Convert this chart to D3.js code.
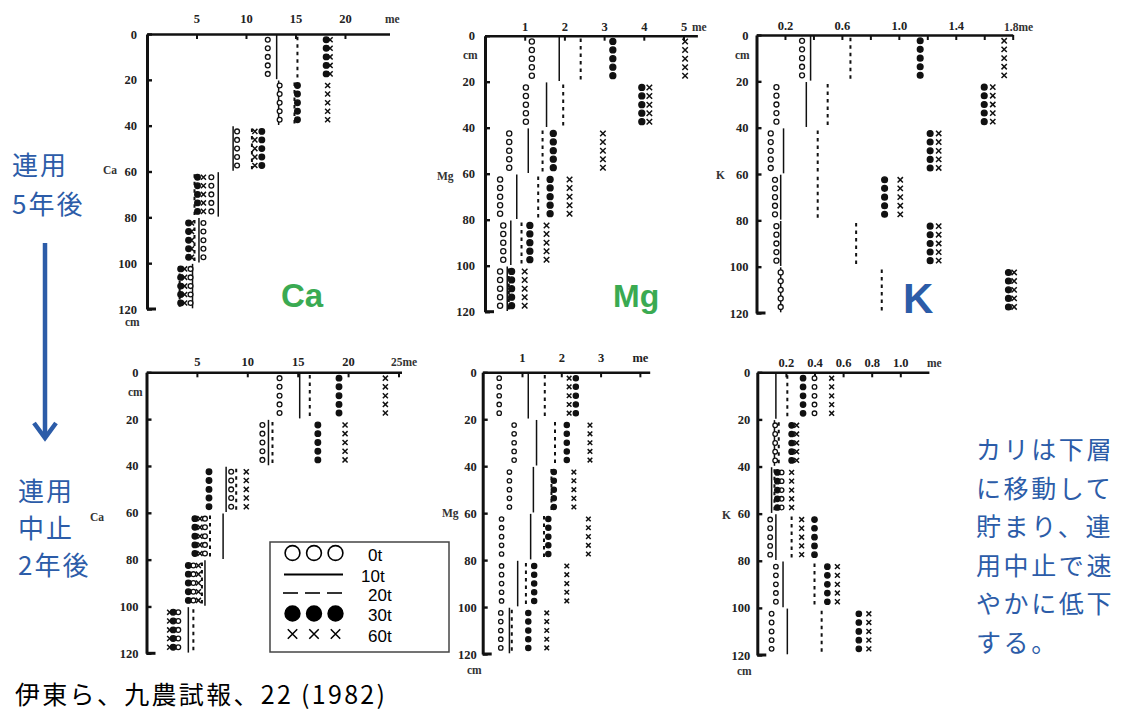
<!DOCTYPE html>
<html><head><meta charset="utf-8">
<script src="https://cdn.jsdelivr.net/npm/d3@7"></script>
<style>body{margin:0;background:#fff;} svg{display:block;}</style>
</head><body><svg id="c" width="1137" height="715"></svg>
<script>
// ---------- DATA ----------
const depthTops = [0, 20, 40, 60, 80, 100];
const yTickValues = [0, 20, 40, 60, 80, 100, 120];
const rateLabels = ["0t", "10t", "20t", "30t", "60t"];
const rateKinds = ["open", "solid", "dashed", "filled", "cross"];

// 連用5年後 Ca (me)
const ca5_0t  = [12.2, 13.4, 9.1, 6.5, 5.7, 4.4];
const ca5_10t = [13.1, 13.3, 8.7, 7.2, 5.25, 4.6];
const ca5_20t = [15.2, 14.9, 10.6, 4.8, 4.8, 3.3];
const ca5_30t = [18.1, 15.2, 11.6, 5.1, 4.2, 3.4];
const ca5_60t = [18.5, 18.25, 10.9, 5.7, 4.5, 3.8];
// 連用5年後 Mg
const mg5_0t  = [1.18, 1.03, 0.61, 0.38, 0.46, 0.38];
const mg5_10t = [1.87, 1.55, 1.09, 0.80, 0.65, 0.56];
const mg5_20t = [2.41, 1.97, 1.45, 1.34, 0.92, 0.60];
const mg5_30t = [3.22, 3.95, 1.72, 1.64, 1.13, 0.67];
const mg5_60t = [5.04, 4.14, 2.97, 2.13, 1.55, 1.00];
// 連用5年後 K
const k5_0t  = [0.32, 0.14, 0.10, 0.13, 0.14, 0.17];
const k5_10t = [0.38, 0.35, 0.19, 0.17, 0.17, 0.17];
const k5_20t = [0.66, 0.50, 0.43, 0.43, 0.70, 0.88];
const k5_30t = [1.15, 1.60, 1.22, 0.90, 1.22, 1.77];
const k5_60t = [1.74, 1.66, 1.28, 1.01, 1.28, 1.81];
// 連用中止2年後 Ca
const ca2_0t  = [13.2, 11.5, 8.4, 5.8, 4.65, 3.15];
const ca2_10t = [15.2, 12.1, 7.9, 7.6, 5.8, 4.15];
const ca2_20t = [16.2, 12.5, 8.9, 6.3, 5.5, 4.65];
const ca2_30t = [19.1, 17.0, 6.2, 4.8, 4.15, 2.65];
const ca2_60t = [23.7, 19.7, 9.9, 5.3, 5.15, 2.3];
// 連用中止2年後 Mg
const mg2_0t  = [0.42, 0.80, 0.68, 0.48, 0.48, 0.46];
const mg2_10t = [1.16, 1.37, 1.29, 1.22, 0.89, 0.68];
const mg2_20t = [1.58, 1.84, 1.75, 1.56, 1.10, 0.74];
const mg2_30t = [2.37, 2.14, 1.81, 1.67, 1.31, 1.16];
const mg2_60t = [2.20, 2.73, 2.32, 2.69, 2.14, 1.63];
// 連用中止2年後 K
const k2_0t  = [0.40, 0.125, 0.17, 0.09, 0.13, 0.10];
const k2_10t = [0.13, 0.12, 0.10, 0.13, 0.18, 0.21];
const k2_20t = [0.21, 0.15, 0.12, 0.24, 0.40, 0.45];
const k2_30t = [0.32, 0.24, 0.14, 0.40, 0.49, 0.71];
const k2_60t = [0.52, 0.275, 0.24, 0.31, 0.56, 0.78];

// tick values and labels
const caTop_ticks = [5, 10, 15, 20];           const caTop_labels = ["5", "10", "15", "20"];
const mgTop_ticks = [1, 2, 3, 4, 5];           const mgTop_labels = ["1", "2", "3", "4", "5"];
const kTop_ticks = [0.2,0.4,0.6,0.8,1.0,1.2,1.4,1.6,1.8];
const kTop_labels = ["0.2", "", "0.6", "", "1.0", "", "1.4", "", ""];
const caBot_ticks = [5, 10, 15, 20, 25];       const caBot_labels = ["5", "10", "15", "20", ""];
const mgBot_ticks = [1, 2, 3, 4];              const mgBot_labels = ["1", "2", "3", "me"];
const kBot_ticks = [0.2, 0.4, 0.6, 0.8, 1.0];  const kBot_labels = ["0.2", "0.4", "0.6", "0.8", "1.0"];

const leftNote1 = ["連用", "5年後"];
const leftNote2 = ["連用", "中止", "2年後"];
const rightNote = ["カリは下層", "に移動して", "貯まり、連", "用中止で速", "やかに低下", "する。"];
const sourceText = "伊東ら、九農試報、22 (1982)";

// ---------- LAYOUT ----------
const panels = [
  {series:[ca5_0t,ca5_10t,ca5_20t,ca5_30t,ca5_60t], xMax:24.5, x0:147, x1:389.5, y0:34, y1:309,
   ticks:caTop_ticks, labels:caTop_labels, xPad:11, yPad:10, r:2.4,
   extra:[{t:"me",x:385,y:23,a:"start"},{t:"Ca",x:103,y:174,a:"start"},{t:"cm",x:125,y:326,a:"start"}]},
  {series:[mg5_0t,mg5_10t,mg5_20t,mg5_30t,mg5_60t], xMax:5.35, x0:485, x1:697.4, y0:35.7, y1:311.7,
   ticks:mgTop_ticks, labels:mgTop_labels, xPad:5, yPad:10, r:2.6,
   extra:[{t:"me",x:692,y:31,a:"start"},{t:"Mg",x:437,y:180,a:"start"},{t:"cm",x:463,y:59,a:"start"}]},
  {series:[k5_0t,k5_10t,k5_20t,k5_30t,k5_60t], xMax:1.8, x0:756.5, x1:1012.7, y0:35, y1:313,
   ticks:kTop_ticks, labels:kTop_labels, xPad:5, yPad:8, r:2.5,
   extra:[{t:"1.8me",x:1004,y:31,a:"start"},{t:"K",x:716,y:179,a:"start"},{t:"cm",x:735,y:59,a:"start"}]},
  {series:[ca2_0t,ca2_10t,ca2_20t,ca2_30t,ca2_60t], xMax:25.3, x0:146.5, x1:401.5, y0:372.3, y1:653.3,
   ticks:caBot_ticks, labels:caBot_labels, xPad:6, yPad:8, r:2.4,
   extra:[{t:"25me",x:391,y:366,a:"start"},{t:"Ca",x:90,y:521,a:"start"},{t:"cm",x:128,y:396,a:"start"}]},
  {series:[mg2_0t,mg2_10t,mg2_20t,mg2_30t,mg2_60t], xMax:4.25, x0:482.7, x1:649.7, y0:372.3, y1:654,
   ticks:mgBot_ticks, labels:mgBot_labels, xPad:10, yPad:6, r:2.2,
   extra:[{t:"Mg",x:442,y:517,a:"start"},{t:"cm",x:467,y:674,a:"start"}]},
  {series:[k2_0t,k2_10t,k2_20t,k2_30t,k2_60t], xMax:1.2, x0:757.3, x1:928.9, y0:372.3, y1:655,
   ticks:kBot_ticks, labels:kBot_labels, xPad:5, yPad:7, r:2.3,
   extra:[{t:"me",x:927,y:367,a:"start"},{t:"K",x:722,y:519,a:"start"},{t:"cm",x:737,y:675,a:"start"}]}
];

const svg = d3.select("#c");
const INK = "#111";
const serif = "'Liberation Serif','DejaVu Serif',serif";
const depthOffsets = [2.5, 6.2, 10, 13.7, 17.4];

panels.forEach(p => {
  const x = d3.scaleLinear().domain([0, p.xMax]).range([p.x0, p.x1]);
  const y = d3.scaleLinear().domain([0, 120]).range([p.y0, p.y1]);
  const g = svg.append("g");

  const xa = d3.axisTop(x).tickValues(p.ticks).tickFormat((d, i) => p.labels[i])
    .tickSizeInner(-5).tickSizeOuter(0).tickPadding(p.xPad);
  const gx = g.append("g").attr("transform", `translate(0,${p.y0})`).call(xa);
  gx.select(".domain").attr("stroke", INK).attr("stroke-width", 2.6);
  gx.selectAll(".tick line").attr("stroke", INK).attr("stroke-width", 2);
  gx.selectAll(".tick text").attr("fill", "#222").style("font", `bold 12.5px ${serif}`);

  const ya = d3.axisLeft(y).tickValues(yTickValues).tickSizeInner(-5).tickSizeOuter(0).tickPadding(p.yPad);
  const gy = g.append("g").attr("transform", `translate(${p.x0},0)`).call(ya);
  gy.select(".domain").attr("stroke", INK).attr("stroke-width", 3);
  gy.selectAll(".tick line").attr("stroke", INK).attr("stroke-width", 2.4);
  gy.selectAll(".tick text").attr("fill", "#222").style("font", `bold 12.5px ${serif}`);
  g.append("line").attr("x1", p.x0).attr("x2", p.x0 + 9).attr("y1", y(120)).attr("y2", y(120))
    .attr("stroke", INK).attr("stroke-width", 3);

  p.extra.forEach(e => g.append("text").attr("x", e.x).attr("y", e.y).attr("text-anchor", e.a)
    .attr("fill", "#333").style("font", `bold 11.5px ${serif}`).text(e.t));

  // marks
  const recs = [];
  p.series.forEach((vals, si) => vals.forEach((v, i) => recs.push({kind: rateKinds[si], v, d0: depthTops[i]})));

  const lines = recs.filter(r => r.kind === "solid" || r.kind === "dashed");
  g.selectAll("line.m").data(lines).join("line").attr("class", "m")
    .attr("x1", r => x(r.v)).attr("x2", r => x(r.v))
    .attr("y1", r => y(r.d0 + (r.kind === "solid" ? 0.3 : 1.2)))
    .attr("y2", r => y(r.d0 + (r.kind === "solid" ? 19.7 : 19)))
    .attr("stroke", INK).attr("stroke-width", r => r.kind === "solid" ? 1.5 : 2)
    .attr("stroke-dasharray", r => r.kind === "dashed" ? "3.5,4" : null);

  const pts = [];
  recs.filter(r => r.kind === "open" || r.kind === "filled" || r.kind === "cross")
    .forEach(r => depthOffsets.forEach(o => pts.push({kind: r.kind, v: r.v, d: r.d0 + o})));

  g.selectAll("circle.m").data(pts.filter(q => q.kind !== "cross")).join("circle").attr("class", "m")
    .attr("cx", q => x(q.v)).attr("cy", q => y(q.d))
    .attr("r", q => q.kind === "filled" ? p.r + 0.4 : p.r)
    .attr("fill", q => q.kind === "filled" ? INK : "#fff")
    .attr("stroke", INK).attr("stroke-width", 1.3);

  const cross = d3.symbol().type(d3.symbolTimes).size(p.r * p.r * 3.2);
  g.selectAll("path.m").data(pts.filter(q => q.kind === "cross")).join("path").attr("class", "m")
    .attr("transform", q => `translate(${x(q.v)},${y(q.d)})`)
    .attr("d", cross).attr("fill", "none").attr("stroke", INK).attr("stroke-width", 1.5);
});

// ---------- LEGEND ----------
const lg = svg.append("g");
lg.append("rect").attr("x", 270).attr("y", 542).attr("width", 179).attr("height", 110)
  .attr("fill", "#fff").attr("stroke", "#444").attr("stroke-width", 1.5);
const legY = [553, 574.5, 593, 613.5, 634];
const legTextX = [368, 361, 368, 368, 368];
const legCx = [292.5, 314, 335.5];
rateKinds.forEach((k, i) => {
  const yy = legY[i];
  if (k === "open" || k === "filled") {
    lg.selectAll(null).data(legCx).join("circle").attr("cx", d => d).attr("cy", yy).attr("r", 7.4)
      .attr("fill", k === "filled" ? "#000" : "#fff").attr("stroke", "#000").attr("stroke-width", 1.6);
  } else if (k === "solid") {
    lg.append("line").attr("x1", 284).attr("x2", 343).attr("y1", yy).attr("y2", yy)
      .attr("stroke", "#000").attr("stroke-width", 2.2);
  } else if (k === "dashed") {
    lg.selectAll(null).data([283, 305, 327]).join("line").attr("x1", d => d).attr("x2", d => d + 15)
      .attr("y1", yy).attr("y2", yy).attr("stroke", "#000").attr("stroke-width", 1.6);
  } else {
    lg.selectAll(null).data(legCx).join("path").attr("transform", d => `translate(${d},${yy})`)
      .attr("d", d3.symbol().type(d3.symbolTimes).size(60)).attr("fill", "none")
      .attr("stroke", "#000").attr("stroke-width", 1.5);
  }
  lg.append("text").attr("x", legTextX[i]).attr("y", yy + 2).attr("dominant-baseline", "central")
    .style("font", "17px 'Liberation Sans', Arial, sans-serif").attr("fill", "#000").text(rateLabels[i]);
});

// ---------- BIG LABELS / NOTES ----------
const GREEN = "#3aaa52", BLUE = "#2c5ca8";
const sans = "'Liberation Sans', Arial, sans-serif";
svg.append("text").attr("x", 281).attr("y", 307).attr("fill", GREEN).style("font", `bold 33px ${sans}`).text("Ca");
svg.append("text").attr("x", 613).attr("y", 307).attr("fill", GREEN).style("font", `bold 32px ${sans}`).text("Mg");
svg.append("text").attr("x", 903).attr("y", 313).attr("fill", BLUE).style("font", `bold 42px ${sans}`).text("K");

const cjk = "'Noto Sans CJK JP', 'Noto Sans CJK SC', sans-serif";
leftNote1.forEach((t, i) => svg.append("text").attr("x", 12).attr("y", 163 + i * 39)
  .attr("dominant-baseline", "central").attr("fill", BLUE)
  .style("font", `26px ${cjk}`).style("letter-spacing", "2px").text(t));
leftNote2.forEach((t, i) => svg.append("text").attr("x", 18).attr("y", 489 + i * 37)
  .attr("dominant-baseline", "central").attr("fill", BLUE)
  .style("font", `26px ${cjk}`).style("letter-spacing", "2px").text(t));
rightNote.forEach((t, i) => svg.append("text").attr("x", 976).attr("y", 448 + i * 38.5)
  .attr("dominant-baseline", "central").attr("fill", BLUE)
  .style("font", `25px ${cjk}`).style("letter-spacing", "2.6px").text(t));

// arrow
svg.append("line").attr("x1", 45).attr("x2", 45).attr("y1", 243).attr("y2", 436)
  .attr("stroke", BLUE).attr("stroke-width", 4.5);
svg.append("path").attr("d", "M34,423 L45,438 L56,423").attr("fill", "none")
  .attr("stroke", BLUE).attr("stroke-width", 4.5).attr("stroke-linejoin", "miter");

svg.append("text").attr("x", 15).attr("y", 693).attr("dominant-baseline", "central")
  .attr("fill", "#000").style("font", `25px ${cjk}`)
  .attr("textLength", 370).attr("lengthAdjust", "spacing").text(sourceText);
</script></body></html>
